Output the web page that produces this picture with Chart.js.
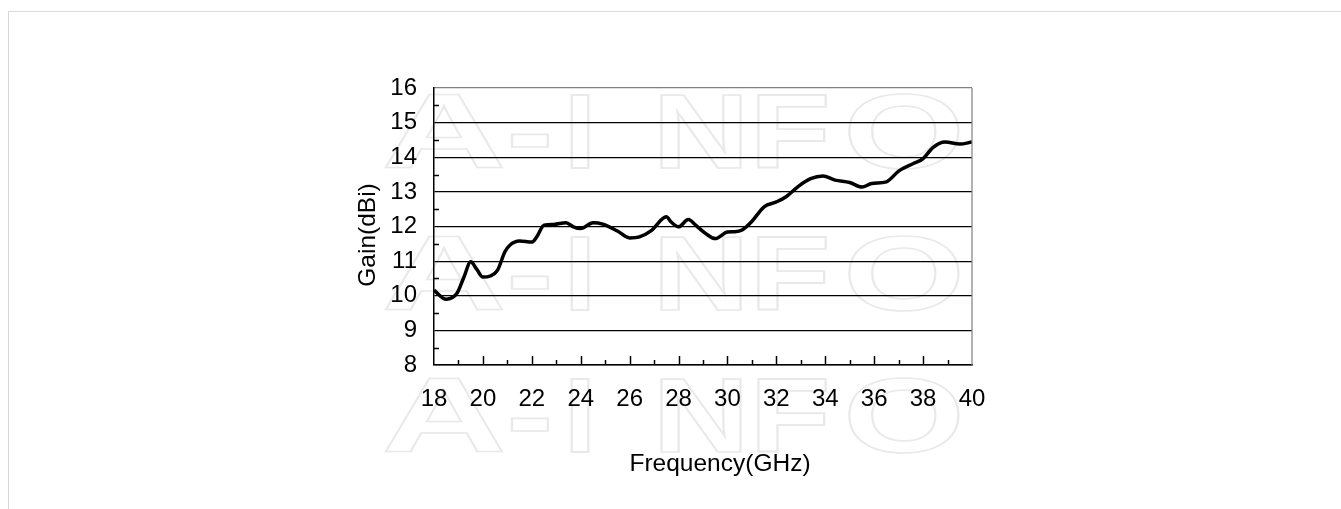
<!DOCTYPE html>
<html>
<head>
<meta charset="utf-8">
<script src="https://cdn.jsdelivr.net/npm/chart.js@4.4.1/dist/chart.umd.min.js"></script>
<style>
  html, body { margin: 0; padding: 0; background: #fff; overflow: hidden; }
  #frame { position: absolute; left: 8px; top: 11px; width: 1400px; height: 600px;
           border-top: 1px solid #d9d9d9; border-left: 1px solid #d9d9d9; }
  #wrap { position: absolute; left: 0; top: 0; width: 1341px; height: 509px; }
</style>
</head>
<body>
<div id="frame"></div>
<div id="wrap"><canvas id="gainChart" width="1341" height="509"></canvas></div>
<script>
// gain curve
const freqGHz = [18, 18.5, 18.94, 19.23, 19.5, 19.75, 20.0, 20.3, 20.6, 20.9, 21.1, 21.5, 22.0, 22.2,
  22.5, 22.9, 23.4, 23.7, 24.0, 24.5, 24.9, 25.5, 26.0, 26.4, 26.9, 27.5, 27.7, 28.0, 28.4, 28.7,
  29.1, 29.5, 30.0, 30.3, 30.6, 31.0, 31.5, 32.0, 32.4, 32.9, 33.4, 33.9, 34.4, 35.0, 35.5, 35.9,
  36.5, 37.0, 37.6, 38.0, 38.4, 38.9, 39.5, 40];
const gainDbi = [10.16, 9.90, 10.07, 10.55, 10.98, 10.76, 10.54, 10.57, 10.74, 11.27, 11.46, 11.58, 11.55, 11.7,
  12.04, 12.06, 12.11, 11.99, 11.94, 12.11, 12.07, 11.87, 11.67, 11.7, 11.89, 12.28, 12.13, 11.99, 12.2, 12.04,
  11.8, 11.65, 11.84, 11.85, 11.9, 12.15, 12.57, 12.71, 12.86, 13.16, 13.38, 13.46, 13.34, 13.27, 13.14, 13.24,
  13.29, 13.6, 13.82, 13.96, 14.28, 14.44, 14.38, 14.44];

const xTicks = { min: 18, max: 40, step: 2 };
const yTicks = { min: 8, max: 16, step: 1 };
const xTitle = 'Frequency(GHz)';
const yTitle = 'Gain(dBi)';

const FONT = "Arial, 'Liberation Sans', sans-serif";

// watermark letters: [char, centre x, width]
const markLetters = [['A', 444, 125], ['-', 530, 47], ['I', 580, 32], ['N', 701, 97], ['F', 790, 81], ['O', 904, 122]];
const markBaselines = [168, 310, 452];

const watermark = {
  id: 'watermark',
  beforeDraw(chart) {
    const ctx = chart.ctx;
    ctx.save();
    ctx.font = 'bold 106px ' + FONT;
    ctx.strokeStyle = '#e9e9e9';
    ctx.textAlign = 'center';
    ctx.textBaseline = 'alphabetic';
    markBaselines.forEach(by => {
      markLetters.forEach(([ch, cx, w]) => {
        const mw = ctx.measureText(ch).width;
        ctx.save();
        ctx.translate(cx, by);
        ctx.scale(w / mw, 1);
        ctx.lineWidth = 2.2 * mw / w;
        ctx.strokeText(ch, 0, 0);
        ctx.restore();
      });
    });
    ctx.restore();
  }
};

// inward tick marks, grey right border, axis titles
const innerTicks = {
  id: 'innerTicks',
  afterDraw(chart) {
    const { ctx, chartArea: a, scales: { x, y } } = chart;
    ctx.save();
    ctx.strokeStyle = '#808080';
    ctx.lineWidth = 1.2;
    ctx.beginPath();
    ctx.moveTo(a.right, a.top);
    ctx.lineTo(a.right, a.bottom);
    ctx.stroke();

    ctx.strokeStyle = '#000';
    ctx.lineWidth = 1.5;
    ctx.beginPath();
    for (let v = x.min + 1; v < x.max; v++) {
      const px = Math.round(x.getPixelForValue(v)) + 0.5;
      const len = v % 2 === 0 ? 9 : 5;
      ctx.moveTo(px, a.bottom);
      ctx.lineTo(px, a.bottom - len);
    }
    for (let v = y.min + 0.5; v < y.max; v++) {
      const py = Math.round(y.getPixelForValue(v)) + 0.5;
      ctx.moveTo(a.left, py);
      ctx.lineTo(a.left + 5, py);
    }
    ctx.stroke();

    ctx.fillStyle = '#000';
    ctx.font = '24.5px ' + FONT;
    ctx.textAlign = 'center';
    ctx.textBaseline = 'middle';
    ctx.fillText(xTitle, 720, 464);
    ctx.translate(368, 235);
    ctx.rotate(-Math.PI / 2);
    ctx.fillText(yTitle, 0, 0);
    ctx.restore();
  }
};

const config = {
  type: 'line',
  data: {
    datasets: [{
      data: freqGHz.map((f, i) => ({ x: f, y: gainDbi[i] })),
      borderColor: '#000',
      borderWidth: 3.5,
      pointRadius: 0,
      fill: false,
      cubicInterpolationMode: 'monotone'
    }]
  },
  options: {
    responsive: false,
    animation: false,
    layout: { padding: { left: 355, right: 369, top: 88, bottom: 0 } },
    plugins: { legend: { display: false }, tooltip: { enabled: false } },
    scales: {
      x: {
        type: 'linear',
        min: xTicks.min,
        max: xTicks.max,
        afterFit(scale) { scale.height = 144; },
        ticks: { stepSize: xTicks.step, padding: 12, color: '#000', font: { family: FONT, size: 24 } },
        grid: { display: false },
        border: { display: true, color: '#000', width: 1.5 }
      },
      y: {
        min: yTicks.min,
        max: yTicks.max,
        afterFit(scale) { scale.width = 79; },
        ticks: { stepSize: yTicks.step, padding: 17, color: '#000', font: { family: FONT, size: 24 } },
        grid: {
          drawTicks: false,
          lineWidth: 1.2,
          color: c => c.tick && c.tick.value === yTicks.max ? '#808080' : '#000'
        },
        border: { display: true, color: '#000', width: 1.5 }
      }
    }
  },
  plugins: [watermark, innerTicks]
};

new Chart(document.getElementById('gainChart'), config);
</script>
</body>
</html>
